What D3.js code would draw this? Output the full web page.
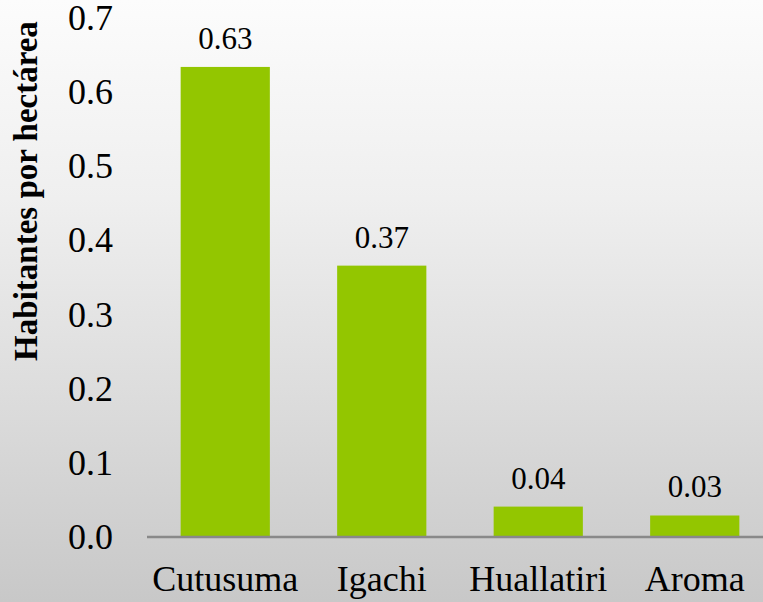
<!DOCTYPE html>
<html><head><meta charset="utf-8"><script src="https://cdn.jsdelivr.net/npm/d3@7"></script>
<style>
@font-face { font-family: "ChartSerif"; src: local("Liberation Serif"), local("LiberationSerif"), local("LiberationSerif-Regular"); font-weight: normal; }
@font-face { font-family: "ChartSerif"; src: local("Liberation Serif Bold"), local("LiberationSerif-Bold"); font-weight: bold; }
</style>
</head>
<body style="margin:0;overflow:hidden">
<svg id="chart" width="763" height="602" style="display:block">
<text id="ytitle" x="0" y="0" font-family="Liberation Serif" font-size="33" font-weight="bold" text-anchor="middle" transform="translate(37,191) rotate(-90)">Habitantes por hectárea</text>
</svg>
<script>
const categories = ["Cutusuma", "Igachi", "Huallatiri", "Aroma"];
const values = [0.634, 0.366, 0.041, 0.029];
const valueLabels = ["0.63", "0.37", "0.04", "0.03"];
const yTicks = [0, 0.1, 0.2, 0.3, 0.4, 0.5, 0.6, 0.7];

const W = 763, H = 602;
const svg = d3.select("#chart");
const grad = svg.insert("defs", ":first-child").append("linearGradient").attr("id","bg").attr("x1",0).attr("y1",0).attr("x2",0).attr("y2",1);
[["0%","#fcfcfc"],["33%","#efefef"],["73%","#d8d8d8"],["100%","#c8c8c8"]].forEach(s=>grad.append("stop").attr("offset",s[0]).attr("stop-color",s[1]));
svg.insert("rect", "#ytitle").attr("width",W).attr("height",H).attr("fill","url(#bg)");

const FONT = "Liberation Serif, ChartSerif, serif";
const setFont = (sel, size) => sel.attr("font-family", FONT).attr("font-size", size);

const x0 = 147, step = 156.5;
const x = d3.scaleBand().domain(categories).range([x0, x0 + step*categories.length]).paddingInner(0.43).paddingOuter(0.215);
const y = d3.scaleLinear().domain([0, 0.7]).range([537, 18]);

svg.selectAll("rect.bar").data(values).join("rect").attr("class","bar")
  .attr("x",(d,i)=>x(categories[i])).attr("width",x.bandwidth())
  .attr("y",d=>y(d)).attr("height",d=>y(0)-y(d)).attr("fill","#93c600");

const dl = svg.selectAll("text.dl").data(values).join("text").attr("class","dl")
  .attr("x",(d,i)=>x(categories[i])+x.bandwidth()/2).attr("y",d=>y(d)-18)
  .attr("text-anchor","middle").attr("fill","#000")
  .text((d,i)=>valueLabels[i]);
setFont(dl, 31);

const gy = svg.append("g").attr("transform",`translate(${x0},0)`)
  .call(d3.axisLeft(y).tickValues(yTicks).tickFormat(d3.format(".1f")).tickSize(0).tickPadding(34));
setFont(gy, 36);
gy.select(".domain").remove();
setFont(gy.selectAll("text").attr("fill","#000"), 36);

const gx = svg.append("g").attr("transform",`translate(0,${y(0)})`)
  .call(d3.axisBottom(x).tickSize(0).tickPadding(28));
setFont(gx, 36);
gx.select(".domain").attr("stroke","#898989").attr("stroke-width",2.5).attr("d",`M${x0},0H${W}`);
setFont(gx.selectAll("text").attr("fill","#000"), 36);
</script>
</body></html>
